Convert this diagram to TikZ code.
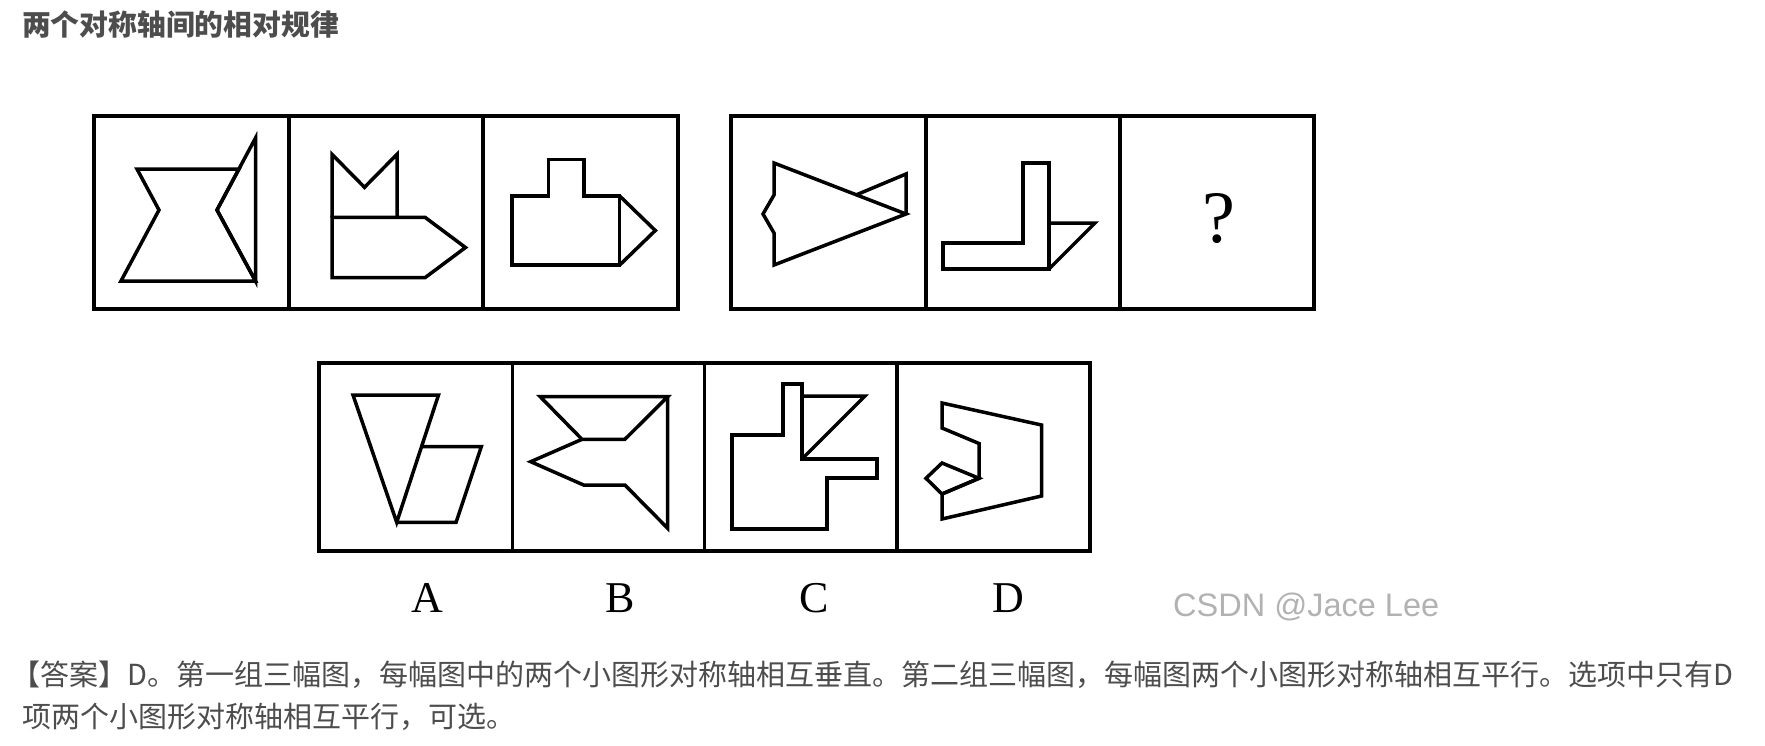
\documentclass[tikz,border=0pt]{standalone}
\usepackage{fontspec}
\setmainfont{Liberation Serif}
\newfontfamily\cjk{Noto Sans CJK SC}
\newfontfamily\wmfont{Liberation Sans}
\definecolor{textgray}{RGB}{77,77,77}
\definecolor{markgray}{RGB}{178,178,178}

\begin{document}
\begin{tikzpicture}[x=1pt,y=-1pt]
    \tikzstyle{panel}=[draw=black,line width=3.8pt]
    \tikzstyle{fig}=[draw=black,line width=3.5pt,line join=miter]
    \tikzstyle{txt}=[anchor=west,inner sep=0pt,text=textgray,font=\cjk\fontsize{29}{29}\selectfont]
    \tikzstyle{optlabel}=[inner sep=0pt,font=\fontsize{44}{44}\selectfont]

    \useasboundingbox (0,0) rectangle (1765,745);

    % rows of the frames
    \def\T{116}
    \def\B{309}
    \def\t{362.7}
    \def\b{551}

    \node[txt,font=\cjk\bfseries\fontsize{28.8}{28.8}\selectfont] (title) at (22,25) {两个对称轴间的相对规律};

    % first group
    \draw[panel] (93.8,\T) rectangle (678,\B);
    \draw[panel] (288.8,\T) -- (288.8,\B);
    \draw[panel] (483.3,\T) -- (483.3,\B);

    \draw[fig] (137,169) -- (239,169) -- (217,210) -- (255.5,281) -- (121,281) -- (159,210) -- cycle;
    \draw[fig] (255.5,138) -- (217,210) -- (255.5,281) -- cycle;

    \draw[fig] (332,217.3) -- (332,154.3) -- (364.5,187.3) -- (397,154.3) -- (397,217.3);
    \draw[fig] (332,217.3) -- (425,217.3) -- (465.5,247.5) -- (425,277.7) -- (332,277.7) -- cycle;

    \draw[fig] (512.2,196) -- (548.5,196) -- (548.5,159.3) -- (584.1,159.3) -- (584.1,196)
        -- (619.7,196) -- (619.7,265) -- (512.2,265) -- cycle;
    \draw[fig] (619.7,196) -- (655.3,230.5) -- (619.7,265);

    % second group
    \draw[panel] (731,\T) rectangle (1314,\B);
    \draw[panel] (925.6,\T) -- (925.6,\B);
    \draw[panel] (1120,\T) -- (1120,\B);

    \draw[fig] (774,163) -- (906,214) -- (774,265) -- (774,233) -- (763,214) -- (774,195) -- cycle;
    \draw[fig] (856.4,194.8) -- (906,174) -- (906,214);

    \draw[fig] (943,243) -- (1023,243) -- (1023,163) -- (1049,163) -- (1049,269) -- (943,269) -- cycle;
    \draw[fig] (1049,223) -- (1095,223) -- (1049,269);

    \node[inner sep=0pt,font=\fontsize{74}{74}\selectfont] (ask) at (1219,219) {?};

    % options
    \draw[panel] (319,\t) rectangle (1090,\b);
    \draw[panel] (512.5,\t) -- (512.5,\b);
    \draw[panel] (704.5,\t) -- (704.5,\b);
    \draw[panel] (897,\t) -- (897,\b);

    \draw[fig] (353,395) -- (438.5,395) -- (396.7,522.3) -- cycle;
    \draw[fig] (421.8,446.7) -- (481.3,446.7) -- (456.1,522.3) -- (396.7,522.3);

    \draw[fig] (540.2,396.7) -- (667.7,396.7) -- (624.9,439.3) -- (582,439.3) -- cycle;
    \draw[fig] (667.7,396.7) -- (667.7,528.3) -- (624.9,485) -- (583.6,485) -- (530.7,461.7) -- (582,439.3);

    \draw[fig] (732,529) -- (732,435) -- (783,435) -- (783,384) -- (802,384) -- (802,459)
        -- (877,459) -- (877,478) -- (827,478) -- (827,529) -- cycle;
    \draw[fig] (802,396) -- (865,396) -- (802,459);

    \draw[fig] (942,403) -- (1041.5,425) -- (1041.5,496) -- (942,519) -- (942,494)
        -- (979,478.3) -- (979,443.5) -- (942,428) -- cycle;
    \draw[fig] (942,463) -- (979,478.3) -- (942,494) -- (926,478.3) -- cycle;

    \node[optlabel] (optA) at (427,598) {A};
    \node[optlabel] (optB) at (620,598) {B};
    \node[optlabel] (optC) at (814,598) {C};
    \node[optlabel] (optD) at (1008,598) {D};

    \node[anchor=west,inner sep=0pt,text=markgray,font=\wmfont\fontsize{32.5}{32.5}\selectfont] (mark) at (1173,607) {CSDN @Jace Lee};

    % answer text
    \node[txt] (answer1) at (11,675) {【答案】D。第一组三幅图，每幅图中的两个小图形对称轴相互垂直。第二组三幅图，每幅图两个小图形对称轴相互平行。选项中只有D};
    \node[txt] (answer2) at (22,717) {项两个小图形对称轴相互平行，可选。};
\end{tikzpicture}
\end{document}
